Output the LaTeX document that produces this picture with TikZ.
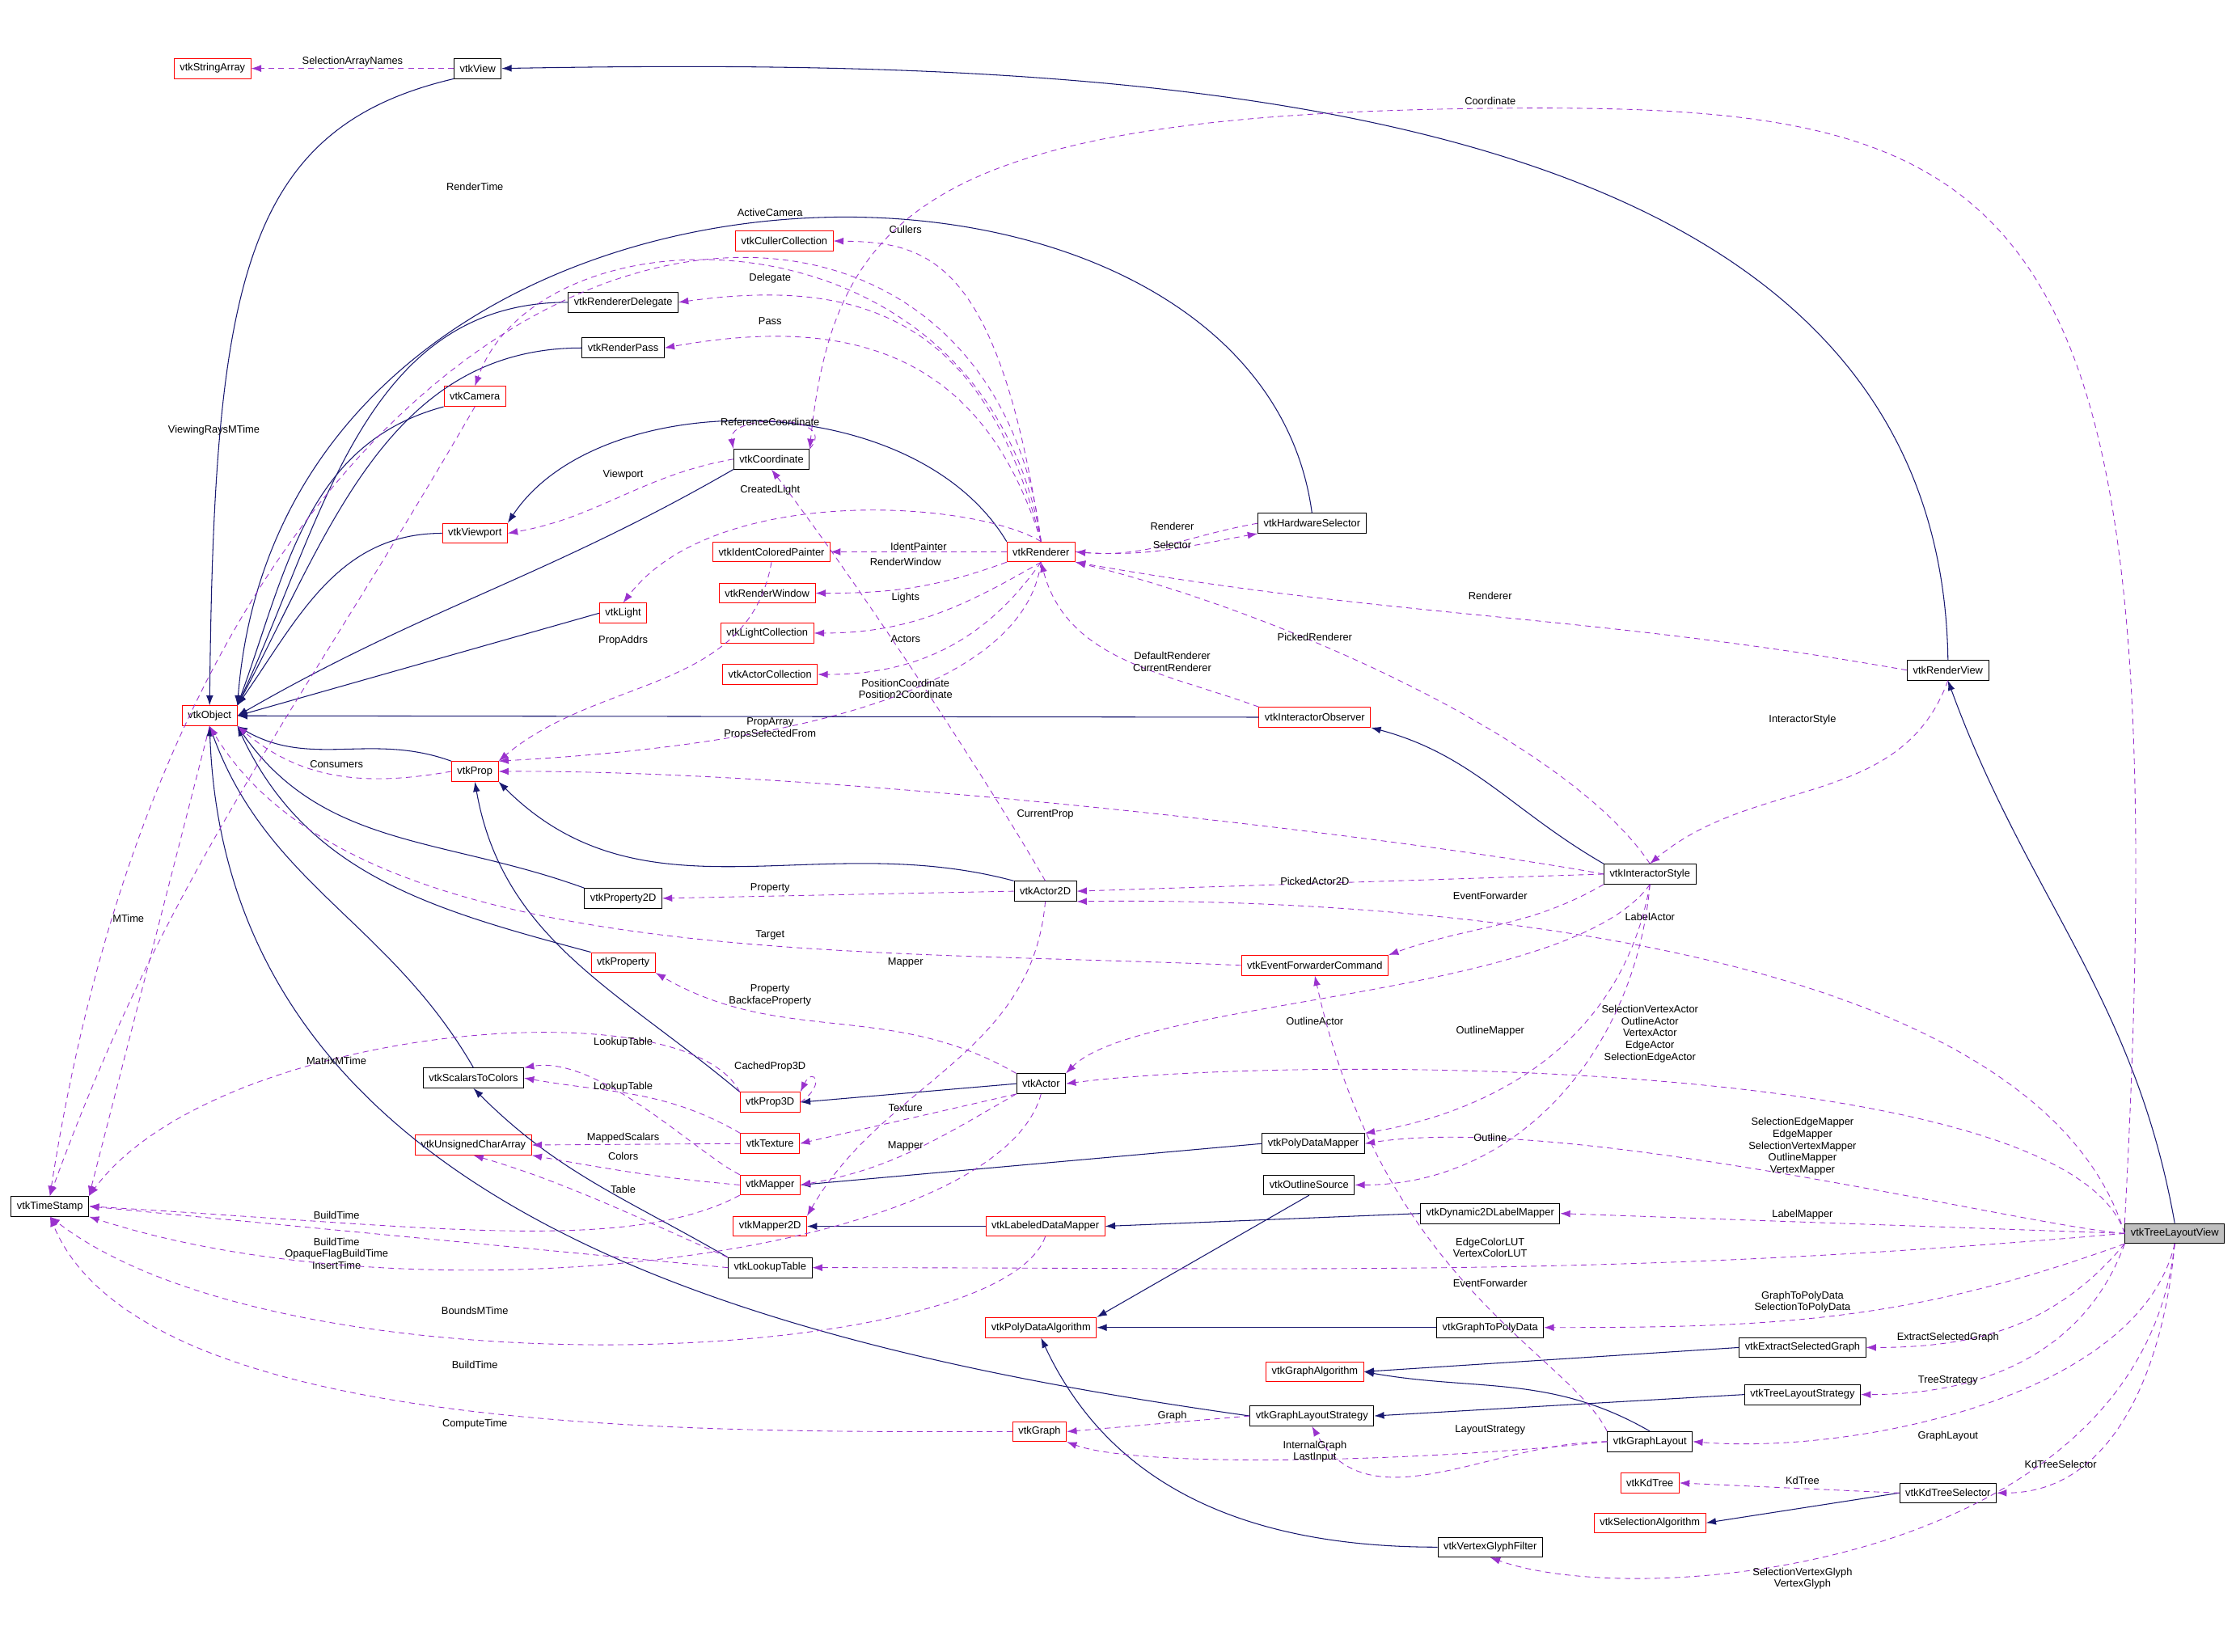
\documentclass[tikz,border=0pt]{standalone}
\usepackage{fontspec}
\setmainfont{Liberation Sans}
\usetikzlibrary{arrows.meta}
\definecolor{navy}{HTML}{191970}
\definecolor{purp}{HTML}{9A32CD}
\newcommand{\ff}{\fontsize{7.3}{8.3}\selectfont}
\tikzset{
 box/.style={draw=black,fill=white,minimum height=14pt,inner xsep=4pt,inner ysep=2pt,font=\ff,line width=0.5pt},
 rbox/.style={box,draw=red},
 inh/.style={draw=navy,line width=0.6pt,-{Latex[length=7pt,width=5pt]}},
 use/.style={draw=purp,line width=0.5pt,dash pattern=on 4pt off 3pt,-{Latex[length=7pt,width=5pt]}},
 lab/.style={font=\ff,align=center,inner sep=0pt}
}
\begin{document}
\begin{tikzpicture}[x=1pt,y=-1pt]
\useasboundingbox (0,0) rectangle (1568,1158);
\node[rbox] (sa) at (149,48) {vtkStringArray};
\node[box] (view) at (335,48) {vtkView};
\node[rbox] (obj) at (147,502) {vtkObject};
\node[box] (ts) at (35,846) {vtkTimeStamp};
\node[rbox] (cc) at (550,169) {vtkCullerCollection};
\node[box] (rdel) at (437,212) {vtkRendererDelegate};
\node[box] (rpass) at (437,244) {vtkRenderPass};
\node[rbox] (cam) at (333,278) {vtkCamera};
\node[box] (coord) at (541,322) {vtkCoordinate};
\node[rbox] (vp) at (333,374) {vtkViewport};
\node[rbox] (icp) at (541,387) {vtkIdentColoredPainter};
\node[rbox] (rw) at (538,416) {vtkRenderWindow};
\node[rbox] (light) at (437,430) {vtkLight};
\node[rbox] (lc) at (538,444) {vtkLightCollection};
\node[rbox] (ac) at (540,473) {vtkActorCollection};
\node[rbox] (rend) at (730,387) {vtkRenderer};
\node[box] (hs) at (920,367) {vtkHardwareSelector};
\node[box] (rview) at (1366,470) {vtkRenderView};
\node[rbox] (io) at (922,503) {vtkInteractorObserver};
\node[rbox] (prop) at (333,541) {vtkProp};
\node[box] (p2d) at (437,630) {vtkProperty2D};
\node[box] (a2d) at (733,625) {vtkActor2D};
\node[box] (is) at (1157,613) {vtkInteractorStyle};
\node[rbox] (efc) at (922,677) {vtkEventForwarderCommand};
\node[rbox] (property) at (437,675) {vtkProperty};
\node[box] (stc) at (332,756) {vtkScalarsToColors};
\node[rbox] (p3d) at (540,773) {vtkProp3D};
\node[box] (actor) at (730,760) {vtkActor};
\node[rbox] (uca) at (332,803) {vtkUnsignedCharArray};
\node[rbox] (tex) at (540,802) {vtkTexture};
\node[rbox] (mapper) at (540,831) {vtkMapper};
\node[box] (pdm) at (921,802) {vtkPolyDataMapper};
\node[box] (os) at (918,831) {vtkOutlineSource};
\node[rbox] (m2d) at (540,860) {vtkMapper2D};
\node[rbox] (ldm) at (733,860) {vtkLabeledDataMapper};
\node[box] (d2d) at (1045,851) {vtkDynamic2DLabelMapper};
\node[box] (lut) at (540,889) {vtkLookupTable};
\node[box,fill=black!25] (tlv) at (1525,865) {vtkTreeLayoutView};
\node[rbox] (pda) at (730,931) {vtkPolyDataAlgorithm};
\node[box] (g2p) at (1045,931) {vtkGraphToPolyData};
\node[box] (esg) at (1264,945) {vtkExtractSelectedGraph};
\node[rbox] (ga) at (922,962) {vtkGraphAlgorithm};
\node[box] (tls) at (1264,978) {vtkTreeLayoutStrategy};
\node[rbox] (graph) at (729,1004) {vtkGraph};
\node[box] (gls) at (920,993) {vtkGraphLayoutStrategy};
\node[box] (gl) at (1157,1011) {vtkGraphLayout};
\node[rbox] (kd) at (1157,1040) {vtkKdTree};
\node[box] (kds) at (1366,1047) {vtkKdTreeSelector};
\node[rbox] (sel) at (1157,1068) {vtkSelectionAlgorithm};
\node[box] (vgf) at (1045,1085) {vtkVertexGlyphFilter};

% inheritance
\draw[inh] (view.south west) .. controls (170,90) and (150,200) .. (obj.north);
\draw[inh] (rview.north) .. controls (1360,60) and (800,40) .. (view.east);
\draw[inh] (tlv.north) to[out=100,in=-70] (rview.south);
\draw[inh] (rdel.west) to[out=180,in=65] (obj.north east);
\draw[inh] (rpass.west) to[out=180,in=62] (obj.north east);
\draw[inh] (cam.south west) to[out=-165,in=70] (obj.north east);
\draw[inh] (coord.south west) to[out=-150,in=30] (obj.east);
\draw[inh] (vp.west) to[out=180,in=55] (obj.north east);
\draw[inh] (light.west) -- (obj.east);
\draw[inh] (hs.north) .. controls (880,60) and (200,70) .. (obj.north east);
\draw[inh] (rend.north west) .. controls (640,270) and (420,270) .. (vp.north east);
\draw[inh] (io.west) -- (obj.east);
\draw[inh] (prop.north west) to[out=160,in=-30] (obj.south east);
\draw[inh] (a2d.north west) to[out=165,in=-45] (prop.south east);
\draw[inh] (p2d.north west) to[out=160,in=-55] (obj.south east);
\draw[inh] (property.north west) to[out=165,in=-65] (obj.south east);
\draw[inh] (stc.north) to[out=120,in=-70] (obj.south);
\draw[inh] (p3d.north west) to[out=140,in=-80] (prop.south);
\draw[inh] (actor.west) -- (p3d.east);
\draw[inh] (lut.north west) to[out=150,in=-45] (stc.south);
\draw[inh] (is.north west) to[out=150,in=-15] (io.south east);
\draw[inh] (pdm.west) -- (mapper.east);
\draw[inh] (d2d.west) -- (ldm.east);
\draw[inh] (ldm.west) -- (m2d.east);
\draw[inh] (os.south) -- (pda.north east);
\draw[inh] (g2p.west) -- (pda.east);
\draw[inh] (esg.west) -- (ga.east);
\draw[inh] (tls.west) -- (gls.east);
\draw[inh] (gls.west) to[out=172,in=-88] (obj.south);
\draw[inh] (gl.north) to[out=150,in=-10] (ga.east);
\draw[inh] (kds.west) -- (sel.east);
\draw[inh] (vgf.west) to[out=180,in=-65] (pda.south);

% usage
\draw[use] (view.west) -- node[lab,above=1pt]{SelectionArrayNames} (sa.east);
\draw[use] (tlv.north west) .. controls (1530,120) and (1420,72) .. (1045,76) .. controls (650,80) and (585,150) .. (coord.north east);
\node[lab] at (1045,71) {Coordinate};
\draw[use] (rend.north) .. controls (690,40) and (150,100) .. (ts.north);
\node[lab] at (333,131) {RenderTime};
\draw[use] (rend.north) .. controls (690,140) and (380,140) .. (cam.north);
\node[lab] at (540,149) {ActiveCamera};
\draw[use] (rend.north) .. controls (700,180) and (650,170) .. (cc.east);
\node[lab] at (635,161) {Cullers};
\draw[use] (rend.north) .. controls (690,220) and (600,195) .. (rdel.east);
\node[lab] at (540,195) {Delegate};
\draw[use] (rend.north) .. controls (690,250) and (600,220) .. (rpass.east);
\node[lab] at (540,225) {Pass};
\draw[use] (cam.south) to[out=-120,in=70] (ts.north);
\node[lab] at (150,302) {ViewingRaysMTime};
\draw[use] (coord.north east) .. controls (590,290) and (510,290) .. (coord.north west);
\node[lab] at (540,296) {ReferenceCoordinate};
\draw[use] (coord.west) to[out=190,in=10] (vp.east);
\node[lab] at (437,333) {Viewport};
\draw[use] (rend.north) .. controls (680,350) and (500,340) .. (light.north);
\node[lab] at (540,344) {CreatedLight};
\draw[use] (rend.west) -- node[lab,above=1pt]{IdentPainter} (icp.east);
\draw[use] (rend.south west) to[out=-160,in=0] (rw.east);
\node[lab] at (635,394) {RenderWindow};
\draw[use] (rend.south) to[out=-150,in=0] (lc.east);
\node[lab] at (635,419) {Lights};
\draw[use] (rend.south) to[out=-125,in=0] (ac.east);
\node[lab] at (635,448) {Actors};
\draw[use] (hs.west) to[out=190,in=-5] (rend.east);
\node[lab] at (822,369) {Renderer};
\draw[use] (rend.east) to[out=-5,in=190] (hs.south west);
\node[lab] at (822,382) {Selector};
\draw[use] (rview.west) to[out=170,in=-10] (rend.south east);
\node[lab] at (1045,418) {Renderer};
\draw[use] (is.north) .. controls (1100,520) and (900,430) .. (rend.south east);
\node[lab] at (922,447) {PickedRenderer};
\draw[use] (io.north west) to[out=160,in=-75] (rend.south);
\node[lab] at (822,464) {DefaultRenderer\\CurrentRenderer};
\draw[use] (icp.south) to[out=-100,in=40] (prop.north east);
\node[lab] at (437,449) {PropAddrs};
\draw[use] (rend.south) .. controls (720,470) and (600,520) .. (prop.north east);
\node[lab] at (540,511) {PropArray\\PropsSelectedFrom};
\draw[use] (a2d.north) .. controls (700,560) and (610,420) .. (coord.south);
\node[lab] at (635,483) {PositionCoordinate\\Position2Coordinate};
\draw[use] (prop.west) to[out=190,in=-40] (obj.south east);
\node[lab] at (236,536) {Consumers};
\draw[use] (is.west) .. controls (1000,590) and (600,540) .. (prop.east);
\node[lab] at (733,571) {CurrentProp};
\draw[use] (rview.south) to[out=-110,in=40] (is.north);
\node[lab] at (1264,505) {InteractorStyle};
\draw[use] (is.west) -- (a2d.east);
\node[lab] at (922,618) {PickedActor2D};
\draw[use] (a2d.west) -- (p2d.east);
\node[lab] at (540,623) {Property};
\draw[use] (is.south west) to[out=-150,in=20] (efc.north east);
\node[lab] at (1045,628) {EventForwarder};
\draw[use] (efc.west) .. controls (600,665) and (250,680) .. (obj.south);
\node[lab] at (540,656) {Target};
\draw[use] (tlv.west) .. controls (1420,640) and (900,630) .. (a2d.south east);
\node[lab] at (1157,643) {LabelActor};
\draw[use] (a2d.south) to[out=-95,in=60] (m2d.north east);
\node[lab] at (635,675) {Mapper};
\draw[use] (obj.south) -- (ts.north east);
\node[lab] at (90,644) {MTime};
\draw[use] (actor.north west) to[out=150,in=-30] (property.south east);
\node[lab] at (540,698) {Property\\BackfaceProperty};
\draw[use] (is.south) .. controls (1100,700) and (800,700) .. (actor.north east);
\node[lab] at (922,716) {OutlineActor};
\draw[use] (is.south) to[out=-100,in=10] (pdm.north east);
\node[lab] at (1045,723) {OutlineMapper};
\draw[use] (tlv.west) .. controls (1450,740) and (900,740) .. (actor.east);
\node[lab] at (1157,725) {SelectionVertexActor\\OutlineActor\\VertexActor\\EdgeActor\\SelectionEdgeActor};
\draw[use] (p3d.north west) .. controls (480,690) and (150,720) .. (ts.north east);
\node[lab] at (236,744) {MatrixMTime};
\draw[use] (tex.north west) to[out=150,in=-10] (stc.east);
\node[lab] at (437,762) {LookupTable};
\draw[use] (mapper.north west) .. controls (490,810) and (420,740) .. (stc.north east);
\node[lab] at (437,731) {LookupTable};
\draw[use] (p3d.east) .. controls (580,760) and (570,748) .. (p3d.north east);
\node[lab] at (540,748) {CachedProp3D};
\draw[use] (actor.south west) -- (tex.east);
\node[lab] at (635,777) {Texture};
\draw[use] (tex.west) -- (uca.east);
\node[lab] at (437,798) {MappedScalars};
\draw[use] (mapper.west) to[out=175,in=-10] (uca.south east);
\node[lab] at (437,811) {Colors};
\draw[use] (actor.south west) to[out=-150,in=10] (mapper.east);
\node[lab] at (635,804) {Mapper};
\draw[use] (tlv.west) .. controls (1420,860) and (1100,780) .. (pdm.east);
\node[lab] at (1264,804) {SelectionEdgeMapper\\EdgeMapper\\SelectionVertexMapper\\OutlineMapper\\VertexMapper};
\draw[use] (is.south) to[out=-95,in=0] (os.east);
\node[lab] at (1045,798) {Outline};
\draw[use] (lut.north west) .. controls (460,860) and (400,830) .. (uca.south);
\node[lab] at (437,834) {Table};
\draw[use] (mapper.south west) .. controls (440,880) and (300,860) .. (ts.east);
\node[lab] at (236,852) {BuildTime};
\draw[use] (tlv.west) -- (d2d.east);
\node[lab] at (1264,852) {LabelMapper};
\draw[use] (lut.west) -- (ts.east);
\node[lab] at (236,879) {BuildTime\\OpaqueFlagBuildTime\\InsertTime};
\draw[use] (tlv.west) to[out=185,in=0] (lut.east);
\node[lab] at (1045,875) {EdgeColorLUT\\VertexColorLUT};
\draw[use] (actor.south) .. controls (700,880) and (300,930) .. (ts.south east);
\node[lab] at (333,919) {BoundsMTime};
\draw[use] (ldm.south) .. controls (700,960) and (200,980) .. (ts.south);
\node[lab] at (333,957) {BuildTime};
\draw[use] (gl.north west) .. controls (1100,950) and (970,900) .. (efc.south);
\node[lab] at (1045,900) {EventForwarder};
\draw[use] (tlv.south west) to[out=200,in=0] (g2p.east);
\node[lab] at (1264,913) {GraphToPolyData\\SelectionToPolyData};
\draw[use] (tlv.south west) to[out=-130,in=0] (esg.east);
\node[lab] at (1366,938) {ExtractSelectedGraph};
\draw[use] (tlv.south west) to[out=-110,in=0] (tls.east);
\node[lab] at (1366,968) {TreeStrategy};
\draw[use] (graph.west) .. controls (500,1004) and (100,1010) .. (ts.south);
\node[lab] at (333,999) {ComputeTime};
\draw[use] (gls.west) -- (graph.east);
\node[lab] at (822,993) {Graph};
\draw[use] (gl.west) to[out=180,in=-60] (gls.south);
\node[lab] at (1045,1003) {LayoutStrategy};
\draw[use] (gl.west) .. controls (1000,1025) and (800,1030) .. (graph.south east);
\node[lab] at (922,1018) {InternalGraph\\LastInput};
\draw[use] (tlv.south) .. controls (1500,980) and (1300,1020) .. (gl.east);
\node[lab] at (1366,1007) {GraphLayout};
\draw[use] (kds.west) -- (kd.east);
\node[lab] at (1264,1038) {KdTree};
\draw[use] (tlv.south) to[out=-95,in=0] (kds.east);
\node[lab] at (1445,1027) {KdTreeSelector};
\draw[use] (tlv.south) .. controls (1500,1100) and (1150,1130) .. (vgf.south);
\node[lab] at (1264,1107) {SelectionVertexGlyph\\VertexGlyph};
\end{tikzpicture}
\end{document}
